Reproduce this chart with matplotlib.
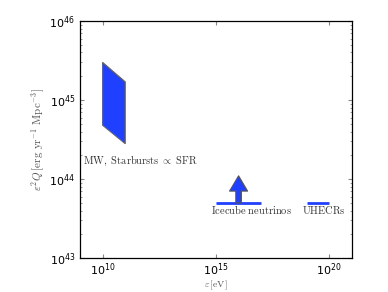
import matplotlib
matplotlib.use('Agg')
import matplotlib.pyplot as plt
from matplotlib.patches import Polygon

plt.rcParams['mathtext.fontset'] = 'cm'

# MW / starburst band (parallelogram corners)
sfr_e = [1e10, 1e10, 1e11, 1e11]
sfr_q = [3.0e45, 4.8e44, 2.8e44, 1.7e45]

# IceCube neutrinos: range and lower-limit arrow
ice_e = [1e15, 1e17]
ice_q = 5e43
ice_arrow_e = 1e16
ice_arrow_top = 1.1e44

# UHECRs
uhe_e = [1e19, 1e20]
uhe_q = 5e43

blue = '#2040ff'

fig = plt.figure(figsize=(3.88, 2.92), dpi=100)
ax = fig.add_axes([0.206, 0.116, 0.701, 0.812])
ax.set_xscale('log')
ax.set_yscale('log')
ax.set_xlim(1e9, 1e21)
ax.set_ylim(1e43, 1e46)

ax.add_patch(Polygon(list(zip(sfr_e, sfr_q)), closed=True,
                     facecolor=blue, edgecolor='#666666', lw=0.8))

ax.plot(ice_e, [ice_q, ice_q], color=blue, lw=2, solid_capstyle='butt')
ax.plot(uhe_e, [uhe_q, uhe_q], color=blue, lw=2, solid_capstyle='butt')

ax.annotate('', xy=(ice_arrow_e, ice_arrow_top), xytext=(ice_arrow_e, ice_q),
            arrowprops=dict(arrowstyle='simple,head_width=1.3,head_length=1.1,tail_width=0.4',
                            facecolor=blue, edgecolor='#555555', lw=0.8,
                            shrinkA=0, shrinkB=0))

tstyle = dict(fontsize=7.5, color='#333333')
ax.text(1.4e9, 1.55e44, r'$\mathrm{MW,\ Starbursts}\ \propto\ \mathrm{SFR}$', **tstyle)
ax.text(6e14, 3.6e43, r'$\mathrm{Icecube\ neutrinos}$', **tstyle)
ax.text(6.5e18, 3.6e43, r'$\mathrm{UHECRs}$', **tstyle)

ax.set_xticks([1e10, 1e15, 1e20])
ax.set_yticks([1e43, 1e44, 1e45, 1e46])
ax.tick_params(which='both', direction='in', top=True, right=True, color='#888888',
               labelsize=8)
ax.tick_params(axis='x', which='minor', bottom=False, top=False)
ax.tick_params(axis='x', pad=2)
ax.tick_params(which='major', length=3)
ax.tick_params(which='minor', length=1.5)

ax.set_xlabel(r'$\varepsilon\,[\mathrm{eV}]$', fontsize=7, color='#555555')
ax.xaxis.set_label_coords(0.5, -0.088)
ax.set_ylabel(r'$\varepsilon^2 Q\,[\mathrm{erg\ yr^{-1}\ Mpc^{-3}}]$', fontsize=8,
              color='#555555', labelpad=2)

for s in ax.spines.values():
    s.set_linewidth(0.9)

fig.savefig('out.png', dpi=100)
